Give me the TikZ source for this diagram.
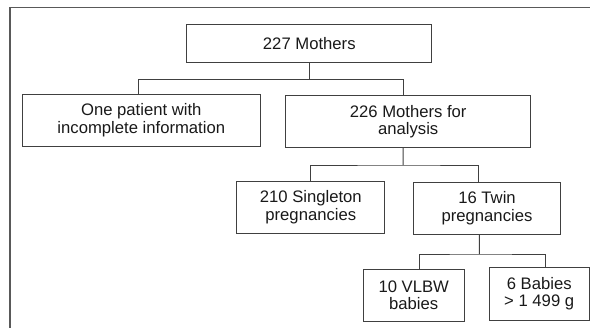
\documentclass[tikz,border=0pt]{standalone}
\usepackage{fontspec}
\setmainfont{Liberation Sans}
\usepackage{xcolor}
\usepackage{tikz}

\begin{document}
\begin{tikzpicture}[x=0.6pt,y=-0.6pt,
  box/.style={draw=black!75,line width=0.6pt,rectangle,align=center,inner sep=0pt,
    text=black!90,font=\fontsize{10}{10.6}\selectfont},
  link/.style={draw=black!75,line width=0.6pt},
  frame/.style={draw=black!65,line width=0.8pt}]
\useasboundingbox (0,0) rectangle (590,328);
\draw[frame] (590,7.5) -- (10,7.5) -- (10,328);
\node[box,minimum width=147pt,minimum height=23pt] (top) at (309.3,43.7) {227 Mothers};
\node[box,minimum width=143pt,minimum height=31pt] (left) at (141.3,120.2) {One patient with\\incomplete information};
\node[box,minimum width=147pt,minimum height=31pt] (mid) at (408.2,121.6) {226 Mothers for\\analysis};
\node[box,minimum width=89pt,minimum height=31pt] (single) at (310.8,207.5) {210 Singleton\\pregnancies};
\node[box,minimum width=88.5pt,minimum height=31pt] (twin) at (487,208.3) {16 Twin\\pregnancies};
\node[box,minimum width=60.5pt,minimum height=31.5pt] (vlbw) at (413.7,295.3) {10 VLBW\\babies};
\node[box,minimum width=60pt,minimum height=31.5pt] (babies) at (539.2,293.8) {6 Babies\\> 1 499 g};
\coordinate (j1) at (309.3,79.3);
\coordinate (j2) at (403.2,165);
\coordinate (j3) at (479.3,254);
\draw[link] (top.south) -- (j1);
\draw[link] ([xshift=-1.5pt]left.north) |- (j1) -| ([xshift=-3pt]mid.north);
\draw[link] ([xshift=-3pt]mid.south) -- (j2);
\draw[link] (single.north) |- (j2) -| ([xshift=-5pt]twin.north);
\draw[link] ([xshift=-4.6pt]twin.south) -- (j3);
\draw[link] ([xshift=3.2pt]vlbw.north) |- (j3) -| ([xshift=3.9pt]babies.north);
\end{tikzpicture}
\end{document}
